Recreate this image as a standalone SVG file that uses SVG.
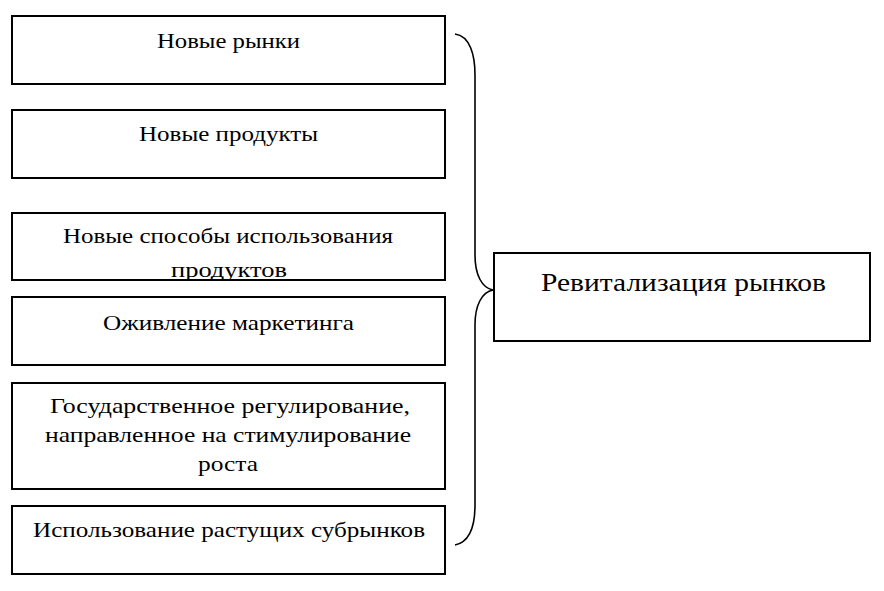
<svg xmlns="http://www.w3.org/2000/svg" width="884" height="591" viewBox="0 0 884 591">
<style>
.box{fill:#fff;stroke:#000;stroke-width:2}
.t{font-family:"Liberation Serif","Times New Roman",serif;font-size:22px;fill:#000;text-anchor:middle}
.tb{font-family:"Liberation Serif","Times New Roman",serif;font-size:25px;fill:#000;text-anchor:middle}
.brace{fill:none;stroke:#000;stroke-width:1.6}
</style>
<defs>
<clipPath id="c3"><rect x="12" y="213" width="433" height="67"/></clipPath>
</defs>
<rect width="884" height="591" fill="#fff"/>
<g id="n1"><rect class="box" x="12" y="16" width="433" height="68"/><text class="t" x="228.5" y="48" textLength="143" lengthAdjust="spacingAndGlyphs">Новые рынки</text></g>
<g id="n2"><rect class="box" x="12" y="110" width="433" height="68"/><text class="t" x="228.5" y="141" textLength="179" lengthAdjust="spacingAndGlyphs">Новые продукты</text></g>
<g id="n3"><rect class="box" x="12" y="213" width="433" height="67"/><g clip-path="url(#c3)"><text class="t" x="228" y="243" textLength="330" lengthAdjust="spacingAndGlyphs">Новые способы использования</text><text class="t" x="229" y="277" textLength="116" lengthAdjust="spacingAndGlyphs">продуктов</text></g></g>
<g id="n4"><rect class="box" x="12" y="297" width="433" height="68"/><text class="t" x="228.5" y="330" textLength="251" lengthAdjust="spacingAndGlyphs">Оживление маркетинга</text></g>
<g id="n5"><rect class="box" x="12" y="383" width="433" height="106"/><text class="t" x="230" y="413" textLength="360" lengthAdjust="spacingAndGlyphs">Государственное регулирование,</text><text class="t" x="228" y="442" textLength="366" lengthAdjust="spacingAndGlyphs">направленное на стимулирование</text><text class="t" x="228" y="471" textLength="60" lengthAdjust="spacingAndGlyphs">роста</text></g>
<g id="n6"><rect class="box" x="12" y="506" width="433" height="68"/><text class="t" x="229" y="537" textLength="392" lengthAdjust="spacingAndGlyphs">Использование растущих субрынков</text></g>
<g id="n7"><rect class="box" x="494" y="253" width="376" height="88"/><text class="tb" x="683.5" y="291" textLength="285" lengthAdjust="spacingAndGlyphs">Ревитализация рынков</text></g>
<g id="connectors">
<path class="brace" d="M455,34 C470,36 475,55 475,75 L475,255 C475,275 482,288 493,290 C482,292 475,305 475,325 L475,505 C475,525 470,542 455,545"/>
</g>
</svg>
